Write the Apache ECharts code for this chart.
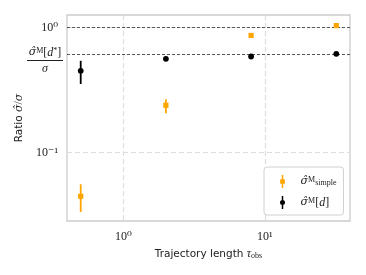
<!DOCTYPE html>
<html><head><meta charset="utf-8">
<script src="https://cdn.jsdelivr.net/npm/echarts@6/dist/echarts.min.js"></script>
<style>html,body{margin:0;padding:0;background:#fff}#c{width:366px;height:275px}</style>
</head><body><div id="c"></div>
<script>
const trajectoryLength = [0.5, 2, 8, 32];
const simpleRatio = [0.0445, 0.239, 0.867, 1.04];
const simpleLow = [0.0333, 0.206, 0.867, 1.04];
const simpleHigh = [0.0556, 0.267, 0.867, 1.04];
const dRatio = [0.451, 0.563, 0.588, 0.618];
const dLow = [0.354, 0.552, 0.580, 0.612];
const dHigh = [0.543, 0.574, 0.596, 0.624];
const referenceLevels = [1, 0.614];
const xTickLabels = {1: '10⁰', 10: '10¹'};
const yTickLabels = {0.1: '10⁻¹', 1: '10⁰'};

const SERIF = '"Liberation Serif", "DejaVu Serif", serif';
const HAT = '"DejaVu Serif", serif';
const SANS = '"DejaVu Sans", sans-serif';

function rows(x, y, lo, hi) { return x.map((v, i) => [v, y[i], lo[i], hi[i]]); }

function errRender(shape) {
  return function (params, api) {
    const x = api.value(0);
    const p = api.coord([x, api.value(1)]);
    const lo = api.coord([x, api.value(2)]);
    const hi = api.coord([x, api.value(3)]);
    const color = api.visual('color');
    const children = [{type: 'line', shape: {x1: p[0], y1: lo[1], x2: p[0], y2: hi[1]}, style: {stroke: color, lineWidth: 1.8}}];
    if (shape === 'rect') children.push({type: 'rect', shape: {x: p[0] - 2.6, y: p[1] - 2.6, width: 5.2, height: 5.2}, style: {fill: color}});
    else children.push({type: 'circle', shape: {cx: p[0], cy: p[1], r: 2.9}, style: {fill: color}});
    return {type: 'group', children};
  };
}

const chart = echarts.init(document.getElementById('c'), null, {renderer: 'canvas'});
chart.setOption({
  animation: false,
  backgroundColor: '#fff',
  grid: {left: 67, top: 15, right: 16, bottom: 54, show: true, borderColor: '#cccccc', borderWidth: 1.3, backgroundColor: 'transparent'},
  xAxis: {
    type: 'log', logBase: 10, min: 0.4, max: 40,
    axisLine: {show: false}, axisTick: {show: false},
    splitLine: {show: true, showMinLine: false, showMaxLine: false, lineStyle: {color: '#dcdcdc', type: [5, 3], width: 1.2}},
    axisLabel: {formatter: v => xTickLabels[Math.round(v * 1000) / 1000] || '', fontFamily: SERIF, fontSize: 12, color: '#222', margin: 10},
    name: '{a|Trajectory length }{t|τ}{s|obs}',
    nameLocation: 'middle', nameGap: 19,
    nameTextStyle: {rich: {
      a: {fontFamily: SANS, fontSize: 10.5, color: '#222', verticalAlign: 'bottom', lineHeight: 14},
      t: {fontFamily: SERIF, fontStyle: 'italic', fontSize: 12, color: '#222', verticalAlign: 'bottom', lineHeight: 14},
      s: {fontFamily: SERIF, fontSize: 8, color: '#222', verticalAlign: 'bottom', lineHeight: 11}
    }}
  },
  yAxis: {
    type: 'log', logBase: 10, min: 0.0282, max: 1.265,
    axisLine: {show: false}, axisTick: {show: false},
    splitLine: {show: true, showMinLine: false, showMaxLine: false, lineStyle: {color: '#dcdcdc', type: [5, 3], width: 1.2}},
    axisLabel: {formatter: v => yTickLabels[Math.round(v * 1000) / 1000] || '', fontFamily: SERIF, fontSize: 12, color: '#222', margin: 9},
    name: '{a|Ratio }{b|σ̂}{c|/}{b|σ}',
    nameLocation: 'middle', nameGap: 42,
    nameTextStyle: {rich: {
      a: {fontFamily: SANS, fontSize: 10.5, color: '#222'},
      b: {fontFamily: HAT, fontStyle: 'italic', fontSize: 11, color: '#222'},
      c: {fontFamily: SERIF, fontSize: 12, color: '#222'}
    }}
  },
  legend: {
    data: [
      {name: 'simple', icon: 'path://M4.2,0H5.8V4.5H7.5V9.5H5.8V14H4.2V9.5H2.5V4.5H4.2Z'},
      {name: 'd', icon: 'path://M4.2,0H5.8V14H4.2Z M5,4.3A2.7,2.7 0 1 1 5,9.7A2.7,2.7 0 1 1 5,4.3Z'}
    ],
    orient: 'vertical', left: 264, top: 167,
    itemWidth: 26, itemHeight: 13, itemGap: 8,
    padding: [8, 7, 6, 16],
    backgroundColor: '#fff', borderColor: '#d0d0d0', borderWidth: 1, borderRadius: 3,
    formatter: n => n === 'simple' ? '{h|σ̂}{sup|M}{sub|simple}' : '{h|σ̂}{sup|M}{b|[}{i|d}{b|]}',
    textStyle: {rich: {
      h: {fontFamily: HAT, fontStyle: 'italic', fontSize: 11, color: '#222'},
      b: {fontFamily: SERIF, fontSize: 12, color: '#222'},
      i: {fontFamily: SERIF, fontStyle: 'italic', fontSize: 12, color: '#222'},
      sup: {fontFamily: SERIF, fontSize: 8, color: '#222', verticalAlign: 'top'},
      sub: {fontFamily: SERIF, fontSize: 8, color: '#222', verticalAlign: 'bottom'}
    }}
  },
  series: [
    {
      name: 'simple', type: 'custom', color: '#ffa500',
      renderItem: errRender('rect'), encode: {x: 0, y: [1, 2, 3]},
      data: rows(trajectoryLength, simpleRatio, simpleLow, simpleHigh), z: 5
    },
    {
      name: 'd', type: 'custom', color: '#000',
      renderItem: errRender('circle'), encode: {x: 0, y: [1, 2, 3]},
      data: rows(trajectoryLength, dRatio, dLow, dHigh), z: 5
    },
    {
      name: 'ref', type: 'line', data: [], silent: true,
      markLine: {
        symbol: 'none', silent: true, animation: false,
        lineStyle: {color: '#555', type: [3, 2], width: 1.2},
        data: referenceLevels.map((v, i) => ({
          yAxis: v,
          label: i === 0 ? {show: false} : {
            show: true, position: 'start', distance: 3,
            formatter: '{h|σ̂}{sup|M}{n|[}{i|d}{sup|*}{n|]}\n{bar|}\n{i|σ}',
            align: 'center', offset: [-19, 6],
            rich: {
              h: {fontFamily: HAT, fontStyle: 'italic', fontSize: 11, color: '#222', align: 'center'},
              n: {fontFamily: SERIF, fontSize: 12, color: '#222', align: 'center'},
              i: {fontFamily: SERIF, fontStyle: 'italic', fontSize: 12, color: '#222', align: 'center'},
              sup: {fontFamily: SERIF, fontSize: 8, color: '#222', verticalAlign: 'top'},
              bar: {width: 36, height: 1, backgroundColor: '#222', lineHeight: 4}
            }
          }
        }))
      }
    }
  ]
});
</script></body></html>
